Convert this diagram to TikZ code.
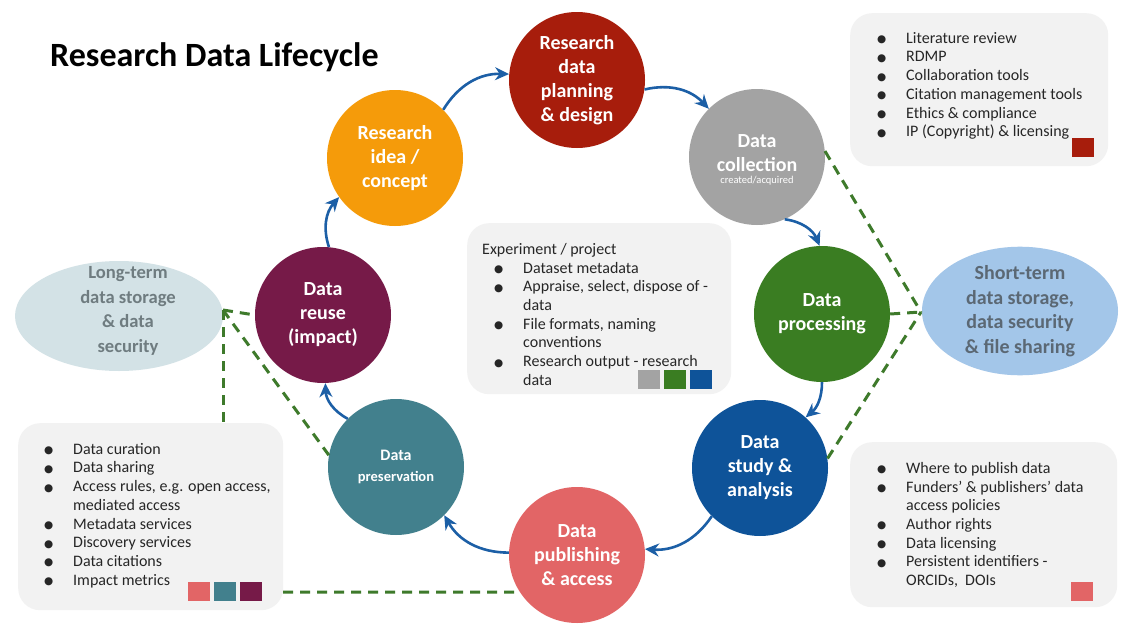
\documentclass[tikz,border=0pt]{standalone}
\usepackage{fontspec}
\setmainfont{Carlito}
\newfontfamily\dejavu{DejaVu Sans}
\usetikzlibrary{arrows.meta,shapes.geometric}
\definecolor{cIdea}{HTML}{F59B0A}
\definecolor{cPlan}{HTML}{A71D0C}
\definecolor{cColl}{HTML}{A3A3A3}
\definecolor{cProc}{HTML}{3A7D22}
\definecolor{cStudy}{HTML}{0E5399}
\definecolor{cPub}{HTML}{E26566}
\definecolor{cPres}{HTML}{42808D}
\definecolor{cReuse}{HTML}{761A48}
\definecolor{cLtL}{HTML}{D3E2E6}
\definecolor{cLtLtext}{HTML}{6F7C80}
\definecolor{cLtR}{HTML}{A3C6E9}
\definecolor{cLtRtext}{HTML}{5B6874}
\definecolor{cBox}{HTML}{F2F2F2}
\definecolor{cArrow}{HTML}{1C5FA6}
\definecolor{cDash}{HTML}{3E7A2B}
\newcommand{\bul}{\makebox[29pt][l]{\raisebox{0.5pt}{\dejavu\fontsize{10.5}{10.5}\selectfont ●}}}
\newcommand{\cont}{\hspace*{29pt}}
\begin{document}
\begin{tikzpicture}[x=1pt,y=-1pt,
  stage/.style={circle, minimum size=136pt, inner sep=0pt, text=white, align=center,
    font=\bfseries\fontsize{20}{24}\selectfont},
  infobox/.style={fill=cBox, rounded corners=22pt, anchor=north west, inner sep=0pt},
  listtext/.style={anchor=north west, inner sep=0pt, align=left, text=black!85,
    font=\fontsize{16}{18.7}\selectfont},
  swatch/.style={anchor=north west, inner sep=0pt, minimum width=22pt, minimum height=19pt},
  flow/.style={draw=cArrow, line width=2.6pt, -{Stealth[length=14pt,width=13pt]}},
  link/.style={draw=cDash, line width=3pt, dash pattern=on 10pt off 7pt}
]
\useasboundingbox (0,0) rectangle (1133,637);
\fill[white] (0,0) rectangle (1133,637);

% title
\node[anchor=west, inner sep=0pt, font=\bfseries\fontsize{34}{38}\selectfont] (title) at (50,57) {Research Data Lifecycle};

% info boxes
\node[infobox, minimum width=258pt, minimum height=153pt] (tr) at (850,13) {};
\node[infobox, minimum width=264pt, minimum height=171pt] (ctr) at (467,223) {};
\node[infobox, minimum width=265pt, minimum height=187pt] (bl) at (18,423) {};
\node[infobox, minimum width=267pt, minimum height=165pt] (br) at (850,442) {};

\node[listtext] (trtext) at (877,32) {\bul Literature review\\ \bul RDMP\\ \bul Collaboration tools\\ \bul Citation management tools\\ \bul Ethics \& compliance\\ \bul IP (Copyright) \& licensing};
\node[swatch, fill=cPlan] (trsq) at (1072,138) {};

\node[listtext] (ctrtext) at (482,243) {Experiment / project\\ \hspace*{12pt}\bul Dataset metadata\\ \hspace*{12pt}\bul Appraise, select, dispose of -\\ \hspace*{12pt}\cont data\\ \hspace*{12pt}\bul File formats, naming\\ \hspace*{12pt}\cont conventions\\ \hspace*{12pt}\bul Research output - research\\ \hspace*{12pt}\cont data};
\node[swatch, fill=cColl] (csq1) at (638,370) {};
\node[swatch, fill=cProc] (csq2) at (664,370) {};
\node[swatch, fill=cStudy] (csq3) at (690,370) {};

\node[listtext] (bltext) at (44,443) {\bul Data curation\\ \bul Data sharing\\ \bul Access rules, e.g. open access,\\ \cont mediated access\\ \bul Metadata services\\ \bul Discovery services\\ \bul Data citations\\ \bul Impact metrics};
\node[swatch, fill=cPub] (blsq1) at (188,582) {};
\node[swatch, fill=cPres] (blsq2) at (214,582) {};
\node[swatch, fill=cReuse] (blsq3) at (240,582) {};

\node[listtext] (brtext) at (877,462) {\bul Where to publish data\\ \bul Funders' \& publishers' data\\ \cont access policies\\ \bul Author rights\\ \bul Data licensing\\ \bul Persistent identifiers -\\ \cont ORCIDs,\ \ DOIs};
\node[swatch, fill=cPub] (brsq) at (1071,582) {};

% storage ellipses
\node[ellipse, fill=cLtL, minimum width=208pt, minimum height=110pt, inner sep=0pt] (lts) at (119,316) {};
\node[align=center, inner sep=0pt, text=cLtLtext, font=\bfseries\fontsize{18.6}{24.5}\selectfont] (ltstext) at (128,311) {Long-term\\data storage\\\& data\\security};
\node[ellipse, fill=cLtR, minimum width=196pt, minimum height=116pt, inner sep=0pt, align=center,
  text=cLtRtext, font=\bfseries\fontsize{20}{24.5}\selectfont] (sts) at (1020,311) {Short-term\\data storage,\\data security\\\& file sharing};

% stages
\node[stage, fill=cIdea] (idea) at (395,158) {Research\\idea /\\concept};
\node[stage, fill=cPlan] (plan) at (577,80) {Research\\data\\planning\\\& design};
\node[stage, fill=cColl] (coll) at (757,157) {};
\node[align=center, inner sep=0pt, text=white, font=\bfseries\fontsize{20}{24}\selectfont] (colltext) at (757,153) {Data\\collection};
\node[inner sep=0pt, text=white, font=\fontsize{10.5}{12}\selectfont] (collsub) at (757,181) {created/acquired};
\node[stage, fill=cProc] (proc) at (822,314) {Data\\processing};
\node[stage, fill=cStudy] (study) at (760,468) {Data\\study \&\\analysis};
\node[stage, fill=cPub] (pub) at (577,555) {Data\\publishing\\\& access};
\node[stage, fill=cPres, font=\bfseries\fontsize{16}{21}\selectfont] (pres) at (396,467) {Data\\{\fontsize{14.5}{16}\selectfont preservation}};
\node[stage, fill=cReuse] (reuse) at (323,315) {Data\\reuse\\(impact)};

% dashed links
\coordinate (ltj) at (223,310);
\coordinate (stj) at (921,312);
\coordinate (blj) at (bl.north -| ltj);
\coordinate (blr) at (283,592);
\draw[link] (ltj) -- (reuse.west);
\draw[link] (ltj) -- (pres.170);
\draw[link] (ltj) -- (blj);
\draw[link] (blr) -- (pub.213);
\draw[link] (coll.5) -- (stj);
\draw[link] (proc.east) -- (stj);
\draw[link] (study.8) -- (stj);

% flow arrows
\draw[flow] (reuse.85) to[bend left=30] (idea.215);
\draw[flow] (idea.45) to[bend left=30] (plan.175);
\draw[flow] (plan.-8) to[bend left=30] (coll.135);
\draw[flow] (coll.-66) to[bend left=30] (proc.92);
\draw[flow] (proc.-90) to[bend left=25] (study.48);
\draw[flow] (study.-135) to[bend left=30] (pub.5);
\draw[flow] (pub.178) to[bend left=30] (pres.-45);
\draw[flow] (pres.135) to[bend left=30] (reuse.-88);
\end{tikzpicture}
\end{document}
